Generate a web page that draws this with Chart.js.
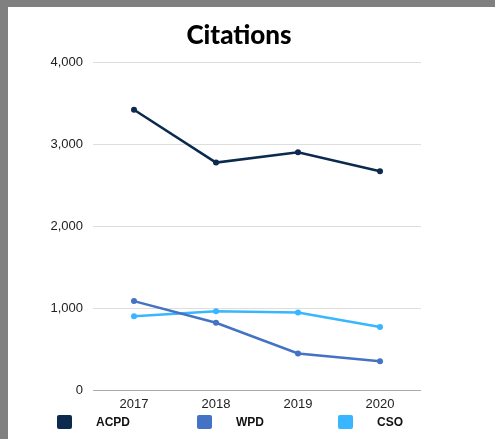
<!DOCTYPE html>
<html>
<head>
<meta charset="utf-8">
<script src="https://cdn.jsdelivr.net/npm/chart.js@4"></script>
<style>
  html, body { margin: 0; padding: 0; background: #808080; width: 495px; height: 439px; overflow: hidden; }
  #panel { position: absolute; left: 8px; top: 7px; width: 487px; height: 432px; background: #fff; }
  #grafico { position: absolute; left: 0; top: 0; }
  .leg { position: absolute; top: 408px; font: bold 12px "Liberation Sans", Arial, sans-serif; color: #111; }
  .leg span.box { position: absolute; left: 0; top: 0; width: 15px; height: 14px; border-radius: 2px; }
  .leg span.txt { position: absolute; left: 39px; top: 0; line-height: 14px; white-space: nowrap; }
</style>
</head>
<body>
<div id="panel">
  <canvas id="grafico" width="487" height="432"></canvas>
  <div id="legenda"></div>
</div>
<script>
const anos = ['2017', '2018', '2019', '2020'];
const series = ['ACPD', 'WPD', 'CSO'];
const acpd = [3420, 2775, 2900, 2670];
const wpd = [1085, 820, 445, 350];
const cso = [900, 960, 945, 770];
const yTicks = [0, 1000, 2000, 3000, 4000];

const cores = ['#0c2a4d', '#4472c4', '#38b6ff'];
const valores = [acpd, wpd, cso];

const fonteEixo = { family: '"Liberation Sans", Arial, sans-serif', size: 13 };

const datasets = series.map((nome, i) => ({
  label: nome,
  data: valores[i],
  borderColor: cores[i],
  backgroundColor: cores[i],
  borderWidth: 2.5,
  pointRadius: 3,
  pointBorderWidth: 0,
  pointHoverRadius: 3,
  tension: 0,
  fill: false
}));

new Chart(document.getElementById('grafico'), {
  type: 'line',
  data: { labels: anos, datasets },
  options: {
    responsive: false,
    animation: false,
    layout: { padding: { left: 0, right: 25, top: 0, bottom: 27 } },
    plugins: {
      legend: { display: false },
      tooltip: { enabled: false },
      title: {
        display: true,
        text: 'Citations',
        color: '#000',
        font: { family: 'Lato, sans-serif', size: 26, weight: '900' },
        padding: { top: 13, bottom: 11 }
      }
    },
    scales: {
      x: {
        offset: true,
        grid: { display: false, drawTicks: false },
        border: { display: false },
        ticks: { color: '#222', font: fonteEixo, padding: 7 },
        afterFit: s => { s.height = 22; }
      },
      y: {
        min: 0,
        max: 4000,
        afterBuildTicks: s => { s.ticks = yTicks.map(v => ({ value: v })); },
        grid: {
          drawTicks: false,
          color: c => c.tick && c.tick.value === 0 ? '#aaaaaa' : '#dedede',
          lineWidth: 1
        },
        border: { display: false },
        ticks: {
          color: '#222',
          font: fonteEixo,
          padding: 10,
          callback: v => v.toLocaleString('en-US')
        },
        afterFit: s => { s.width = 85; }
      },
      // eixo vazio à direita, só para reservar espaço (titulo fica centrado na página)
      espaco: {
        position: 'right',
        grid: { display: false, drawTicks: false },
        border: { display: false },
        ticks: { display: false },
        afterFit: s => { s.width = 49; }
      }
    }
  }
});

// legenda em HTML, como no original
const legenda = document.getElementById('legenda');
const posLeg = [49, 189, 330];
series.forEach((nome, i) => {
  const item = document.createElement('div');
  item.className = 'leg';
  item.style.left = posLeg[i] + 'px';
  item.innerHTML = '<span class="box" style="background:' + cores[i] + '"></span><span class="txt">' + nome + '</span>';
  legenda.appendChild(item);
});
</script>
</body>
</html>
